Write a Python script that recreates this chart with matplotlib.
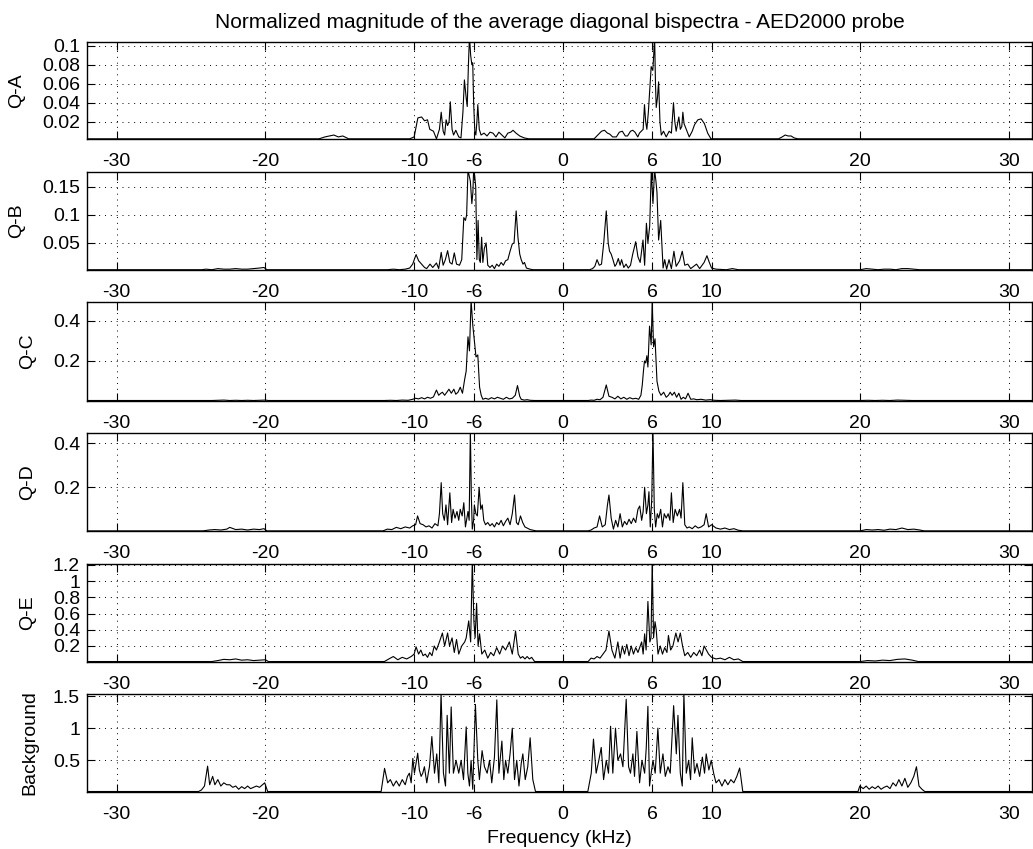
import matplotlib
matplotlib.use("Agg")
import matplotlib.pyplot as plt
import numpy as np

plt.rcParams['font.family'] = ['Liberation Sans', 'DejaVu Sans']

TITLE = "Normalized magnitude of the average diagonal bispectra - AED2000 probe"
XLABEL = "Frequency (kHz)"
XTICKS = [-30, -20, -10, -6, 0, 6, 10, 20, 30]
PANEL_NAMES = ["Q-A", "Q-B", "Q-C", "Q-D", "Q-E", "Background"]

# ---------------- Q-A ----------------
qa_f = [-32.0, -16.4, -16.0, -15.7, -15.4, -15.1, -14.8, -14.4, -10.3, -10.0,
        -9.75, -9.5, -9.3, -9.1, -8.95, -8.7, -8.5, -8.3, -8.18, -8.05,
        -7.95, -7.85, -7.75, -7.65, -7.57, -7.45, -7.35, -7.2, -7.0, -6.85,
        -6.72, -6.62, -6.5, -6.43, -6.35, -6.28, -6.2, -6.12, -6.06, -6.0,
        -5.92, -5.85, -5.78, -5.72, -5.62, -5.5, -5.3, -5.1, -4.9, -4.7,
        -4.5, -4.3, -4.1, -3.9, -3.7, -3.5, -3.35, -3.15, -2.9, -2.6,
        -2.3, -2.0, 1.9, 2.1, 2.35, 2.6, 2.8, 3.0, 3.15, 3.35,
        3.6, 3.8, 4.0, 4.2, 4.35, 4.55, 4.7, 4.85, 5.04, 5.15,
        5.27, 5.4, 5.49, 5.57, 5.65, 5.75, 5.83, 5.94, 6.05, 6.11,
        6.17, 6.23, 6.28, 6.36, 6.44, 6.53, 6.62, 6.77, 6.95, 7.15,
        7.3, 7.44, 7.53, 7.62, 7.72, 7.8, 7.9, 8.0, 8.07, 8.15,
        8.3, 8.5, 8.7, 8.86, 9.08, 9.3, 9.52, 9.74, 9.96, 10.2,
        14.5, 14.75, 14.95, 15.15, 15.35, 15.55, 15.8, 31.6]
qa_v = [0.002, 0.002, 0.004, 0.005, 0.006, 0.004, 0.005, 0.002, 0.002, 0.004,
        0.024, 0.025, 0.021, 0.022, 0.012, 0.010, 0.002, 0.012, 0.030, 0.010,
        0.006, 0.022, 0.016, 0.020, 0.041, 0.012, 0.006, 0.011, 0.004, 0.003,
        0.030, 0.064, 0.045, 0.036, 0.080, 0.110, 0.090, 0.080, 0.082, 0.040,
        0.010, 0.006, 0.020, 0.038, 0.012, 0.006, 0.008, 0.005, 0.009, 0.008,
        0.004, 0.009, 0.006, 0.003, 0.008, 0.009, 0.011, 0.008, 0.005, 0.003,
        0.002, 0.002, 0.002, 0.002, 0.006, 0.010, 0.011, 0.008, 0.007, 0.004,
        0.004, 0.009, 0.010, 0.005, 0.005, 0.010, 0.011, 0.009, 0.004, 0.008,
        0.010, 0.012, 0.038, 0.020, 0.012, 0.030, 0.050, 0.078, 0.074, 0.090,
        0.110, 0.060, 0.035, 0.045, 0.062, 0.020, 0.006, 0.010, 0.004, 0.010,
        0.008, 0.040, 0.020, 0.010, 0.018, 0.025, 0.012, 0.015, 0.030, 0.018,
        0.012, 0.004, 0.010, 0.017, 0.022, 0.023, 0.018, 0.008, 0.002, 0.002,
        0.002, 0.004, 0.006, 0.005, 0.005, 0.003, 0.002, 0.002]

# ---------------- Q-B ----------------
qb_f = [-32.0, -24.3, -24.0, -23.6, -23.2, -22.8, -22.4, -22.0, -21.6, -21.2,
        -20.8, -20.4, -20.1, -19.9, -11.8, -11.4, -11.0, -10.6, -10.3, -10.1,
        -9.87, -9.7, -9.5, -9.3, -9.16, -8.93, -8.75, -8.5, -8.35, -8.18,
        -8.05, -7.9, -7.75, -7.6, -7.45, -7.3, -7.15, -6.95, -6.8, -6.66,
        -6.55, -6.47, -6.38, -6.3, -6.22, -6.12, -6.05, -6.0, -5.93, -5.86,
        -5.78, -5.7, -5.62, -5.55, -5.46, -5.38, -5.28, -5.16, -5.05, -4.9,
        -4.75, -4.6, -4.45, -4.3, -4.15, -4.0, -3.85, -3.7, -3.55, -3.4,
        -3.28, -3.14, -3.02, -2.9, -2.8, -2.68, -2.58, -2.45, -2.2, -2.0,
        1.8, 2.0, 2.15, 2.3, 2.45, 2.6, 2.75, 2.92, 3.05, 3.14,
        3.25, 3.37, 3.5, 3.6, 3.73, 3.85, 3.95, 4.1, 4.25, 4.4,
        4.55, 4.7, 4.9, 5.05, 5.2, 5.39, 5.5, 5.62, 5.72, 5.84,
        5.95, 6.06, 6.17, 6.26, 6.33, 6.44, 6.58, 6.74, 6.85, 6.98,
        7.14, 7.3, 7.47, 7.62, 7.85, 8.03, 8.2, 8.4, 8.6, 8.8,
        8.99, 9.2, 9.5, 9.69, 9.85, 10.0, 10.3, 11.0, 11.4, 11.8,
        20.0, 20.4, 20.8, 21.2, 21.6, 22.0, 22.4, 22.8, 23.2, 23.6,
        24.0, 24.4, 31.6]
qb_v = [0.002, 0.002, 0.003, 0.002, 0.004, 0.003, 0.003, 0.004, 0.003, 0.003,
        0.004, 0.005, 0.006, 0.002, 0.002, 0.003, 0.002, 0.003, 0.005, 0.012,
        0.029, 0.018, 0.012, 0.006, 0.004, 0.012, 0.006, 0.014, 0.004, 0.033,
        0.010, 0.020, 0.036, 0.015, 0.012, 0.032, 0.012, 0.010, 0.020, 0.095,
        0.090, 0.100, 0.180, 0.170, 0.160, 0.120, 0.140, 0.180, 0.170, 0.150,
        0.020, 0.090, 0.020, 0.015, 0.060, 0.015, 0.040, 0.050, 0.010, 0.006,
        0.010, 0.004, 0.012, 0.008, 0.015, 0.010, 0.018, 0.020, 0.035, 0.048,
        0.050, 0.107, 0.060, 0.030, 0.020, 0.012, 0.015, 0.005, 0.003, 0.002,
        0.002, 0.004, 0.008, 0.020, 0.010, 0.012, 0.050, 0.107, 0.050, 0.035,
        0.030, 0.020, 0.008, 0.012, 0.022, 0.010, 0.020, 0.006, 0.012, 0.005,
        0.010, 0.030, 0.052, 0.025, 0.015, 0.055, 0.010, 0.085, 0.050, 0.080,
        0.180, 0.120, 0.180, 0.160, 0.140, 0.055, 0.090, 0.005, 0.020, 0.003,
        0.020, 0.004, 0.035, 0.008, 0.018, 0.035, 0.010, 0.012, 0.004, 0.008,
        0.012, 0.004, 0.015, 0.027, 0.015, 0.005, 0.003, 0.002, 0.004, 0.002,
        0.002, 0.004, 0.003, 0.002, 0.003, 0.003, 0.002, 0.004, 0.004, 0.003,
        0.002, 0.002, 0.002]

# ---------------- Q-C ----------------
qc_f = [-32.0, -23.6, -23.2, -22.8, -22.4, -22.0, -21.6, -21.2, -20.8, -20.4,
        -20.0, -19.8, -12.0, -11.6, -11.2, -10.8, -10.4, -10.1, -9.9, -9.7,
        -9.5, -9.3, -9.1, -8.9, -8.7, -8.5, -8.35, -8.2, -8.1, -7.95,
        -7.8, -7.66, -7.5, -7.33, -7.2, -7.05, -6.9, -6.75, -6.6, -6.5,
        -6.38, -6.28, -6.17, -6.06, -5.95, -5.84, -5.72, -5.6, -5.49, -5.38,
        -5.2, -5.0, -4.8, -4.6, -4.4, -4.2, -4.0, -3.8, -3.6, -3.4,
        -3.2, -3.05, -2.9, -2.8, -2.6, -2.4, -2.2, -1.9, 1.7, 1.9,
        2.1, 2.3, 2.5, 2.7, 2.92, 3.1, 3.3, 3.5, 3.7, 3.9,
        4.1, 4.3, 4.5, 4.7, 4.9, 5.1, 5.25, 5.34, 5.42, 5.49,
        5.57, 5.65, 5.72, 5.83, 5.94, 6.01, 6.1, 6.2, 6.33, 6.46,
        6.6, 6.78, 6.95, 7.1, 7.22, 7.35, 7.5, 7.65, 7.8, 7.95,
        8.1, 8.25, 8.42, 8.6, 8.8, 9.0, 9.3, 9.6, 9.9, 10.2,
        10.6, 11.0, 11.6, 12.0, 20.0, 20.5, 21.0, 21.5, 22.0, 22.5,
        23.0, 23.5, 23.8, 31.6]
qc_v = [0.004, 0.004, 0.005, 0.006, 0.004, 0.005, 0.004, 0.005, 0.004, 0.005,
        0.006, 0.004, 0.004, 0.005, 0.004, 0.006, 0.005, 0.010, 0.015, 0.012,
        0.018, 0.012, 0.020, 0.015, 0.022, 0.056, 0.030, 0.040, 0.045, 0.030,
        0.045, 0.060, 0.040, 0.060, 0.035, 0.045, 0.070, 0.040, 0.110, 0.150,
        0.320, 0.250, 0.500, 0.380, 0.300, 0.220, 0.230, 0.070, 0.030, 0.010,
        0.015, 0.010, 0.018, 0.012, 0.020, 0.015, 0.010, 0.020, 0.012, 0.015,
        0.030, 0.078, 0.025, 0.010, 0.006, 0.008, 0.005, 0.004, 0.004, 0.006,
        0.005, 0.010, 0.008, 0.020, 0.081, 0.025, 0.020, 0.012, 0.025, 0.012,
        0.020, 0.010, 0.018, 0.012, 0.015, 0.010, 0.030, 0.080, 0.150, 0.200,
        0.190, 0.226, 0.170, 0.373, 0.280, 0.500, 0.270, 0.310, 0.100, 0.050,
        0.030, 0.045, 0.020, 0.030, 0.045, 0.030, 0.045, 0.020, 0.040, 0.010,
        0.020, 0.012, 0.040, 0.010, 0.012, 0.008, 0.010, 0.006, 0.008, 0.005,
        0.004, 0.005, 0.006, 0.004, 0.004, 0.005, 0.004, 0.005, 0.004, 0.006,
        0.005, 0.004, 0.004, 0.004]

# ---------------- Q-D ----------------
qd_f = [-32.0, -24.2, -23.8, -23.4, -23.0, -22.6, -22.4, -22.0, -21.6, -21.2,
        -20.8, -20.4, -20.1, -19.9, -12.1, -11.8, -11.5, -11.2, -10.9, -10.6,
        -10.3, -10.1, -9.9, -9.77, -9.6, -9.4, -9.2, -9.0, -8.8, -8.6,
        -8.4, -8.3, -8.18, -8.08, -7.97, -7.86, -7.75, -7.6, -7.48, -7.38,
        -7.25, -7.12, -7.0, -6.9, -6.77, -6.66, -6.55, -6.45, -6.38, -6.3,
        -6.22, -6.15, -6.09, -6.0, -5.95, -5.85, -5.75, -5.63, -5.52, -5.42,
        -5.32, -5.2, -5.05, -4.9, -4.75, -4.6, -4.45, -4.3, -4.15, -4.0,
        -3.85, -3.7, -3.55, -3.4, -3.25, -3.12, -3.0, -2.85, -2.7, -2.55,
        -2.4, -2.2, -2.0, -1.8, 1.7, 1.9, 2.1, 2.3, 2.47, 2.65,
        2.85, 3.0, 3.1, 3.25, 3.4, 3.55, 3.7, 3.85, 4.0, 4.15,
        4.3, 4.45, 4.6, 4.75, 4.9, 5.05, 5.17, 5.3, 5.4, 5.5,
        5.62, 5.72, 5.79, 5.88, 5.98, 6.06, 6.15, 6.24, 6.35, 6.45,
        6.58, 6.7, 6.82, 6.95, 7.08, 7.2, 7.3, 7.42, 7.55, 7.7,
        7.85, 7.95, 8.07, 8.2, 8.35, 8.5, 8.7, 8.9, 9.1, 9.3,
        9.5, 9.64, 9.8, 10.0, 10.3, 10.6, 10.9, 11.2, 11.5, 11.8,
        12.1, 20.0, 20.4, 20.8, 21.2, 21.6, 22.0, 22.4, 22.8, 23.2,
        23.6, 24.0, 24.3, 31.6]
qd_v = [0.002, 0.002, 0.006, 0.008, 0.006, 0.010, 0.018, 0.008, 0.010, 0.006,
        0.010, 0.008, 0.012, 0.002, 0.002, 0.010, 0.008, 0.018, 0.012, 0.020,
        0.015, 0.025, 0.030, 0.070, 0.035, 0.030, 0.020, 0.025, 0.015, 0.035,
        0.025, 0.080, 0.221, 0.080, 0.050, 0.120, 0.030, 0.175, 0.040, 0.100,
        0.060, 0.090, 0.050, 0.100, 0.070, 0.130, 0.020, 0.060, 0.090, 0.050,
        0.460, 0.150, 0.010, 0.050, 0.120, 0.080, 0.070, 0.200, 0.100, 0.120,
        0.050, 0.030, 0.040, 0.025, 0.035, 0.020, 0.040, 0.030, 0.050, 0.025,
        0.045, 0.060, 0.030, 0.080, 0.165, 0.040, 0.030, 0.070, 0.040, 0.020,
        0.015, 0.008, 0.005, 0.002, 0.002, 0.006, 0.015, 0.020, 0.070, 0.020,
        0.030, 0.120, 0.165, 0.060, 0.010, 0.050, 0.020, 0.080, 0.020, 0.045,
        0.030, 0.055, 0.035, 0.060, 0.040, 0.100, 0.115, 0.050, 0.090, 0.200,
        0.080, 0.120, 0.180, 0.020, 0.150, 0.460, 0.100, 0.020, 0.080, 0.060,
        0.100, 0.020, 0.080, 0.060, 0.080, 0.050, 0.175, 0.040, 0.100, 0.070,
        0.100, 0.060, 0.221, 0.030, 0.015, 0.020, 0.012, 0.025, 0.015, 0.020,
        0.030, 0.080, 0.020, 0.030, 0.015, 0.010, 0.015, 0.008, 0.012, 0.005,
        0.002, 0.002, 0.008, 0.006, 0.008, 0.005, 0.010, 0.008, 0.015, 0.008,
        0.010, 0.006, 0.002, 0.002]

# ---------------- Q-E ----------------
qe_f = [-32.0, -23.6, -23.2, -22.8, -22.4, -22.0, -21.6, -21.2, -20.8, -20.4,
        -20.0, -19.8, -12.0, -11.7, -11.4, -11.1, -10.8, -10.5, -10.2, -10.0,
        -9.87, -9.7, -9.55, -9.4, -9.25, -9.1, -8.95, -8.8, -8.65, -8.5,
        -8.3, -8.1, -7.95, -7.75, -7.62, -7.45, -7.3, -7.15, -7.0, -6.8,
        -6.6, -6.5, -6.33, -6.2, -6.09, -5.98, -5.9, -5.8, -5.7, -5.6,
        -5.45, -5.25, -5.05, -4.85, -4.65, -4.45, -4.25, -4.05, -3.85, -3.6,
        -3.4, -3.18, -3.0, -2.85, -2.7, -2.55, -2.4, -2.25, -2.1, -1.9,
        1.7, 1.9, 2.1, 2.3, 2.5, 2.7, 2.9, 3.1, 3.3, 3.5,
        3.7, 3.85, 4.0, 4.15, 4.3, 4.45, 4.6, 4.75, 4.9, 5.05,
        5.2, 5.3, 5.4, 5.5, 5.6, 5.72, 5.85, 5.93, 6.01, 6.1,
        6.2, 6.28, 6.4, 6.55, 6.7, 6.85, 7.0, 7.1, 7.25, 7.4,
        7.6, 7.75, 7.9, 8.05, 8.2, 8.4, 8.6, 8.8, 9.0, 9.2,
        9.35, 9.5, 9.65, 9.8, 10.0, 10.3, 10.6, 10.9, 11.2, 11.5,
        11.8, 12.1, 20.0, 20.5, 21.0, 21.5, 22.0, 22.5, 23.0, 23.5,
        23.9, 31.6]
qe_v = [0.008, 0.008, 0.020, 0.035, 0.030, 0.040, 0.025, 0.030, 0.020, 0.025,
        0.030, 0.008, 0.008, 0.040, 0.070, 0.030, 0.060, 0.040, 0.070, 0.100,
        0.190, 0.100, 0.150, 0.080, 0.100, 0.060, 0.120, 0.080, 0.200, 0.150,
        0.250, 0.360, 0.200, 0.360, 0.200, 0.300, 0.120, 0.280, 0.100, 0.200,
        0.250, 0.300, 0.510, 0.250, 1.250, 0.500, 0.300, 0.727, 0.200, 0.350,
        0.100, 0.150, 0.050, 0.120, 0.080, 0.180, 0.100, 0.200, 0.150, 0.250,
        0.100, 0.385, 0.100, 0.050, 0.070, 0.040, 0.070, 0.040, 0.060, 0.008,
        0.008, 0.050, 0.040, 0.070, 0.050, 0.100, 0.150, 0.385, 0.150, 0.050,
        0.250, 0.050, 0.200, 0.100, 0.220, 0.080, 0.200, 0.100, 0.180, 0.120,
        0.200, 0.250, 0.100, 0.350, 0.150, 0.750, 0.250, 0.300, 1.250, 0.300,
        0.500, 0.400, 0.100, 0.200, 0.100, 0.180, 0.120, 0.330, 0.150, 0.200,
        0.360, 0.250, 0.360, 0.200, 0.080, 0.120, 0.060, 0.120, 0.080, 0.150,
        0.080, 0.200, 0.150, 0.100, 0.060, 0.040, 0.050, 0.030, 0.060, 0.030,
        0.040, 0.008, 0.008, 0.020, 0.015, 0.025, 0.020, 0.035, 0.040, 0.025,
        0.008, 0.008]

# ---------------- Background ----------------
bg_f = [-32.0, -24.5, -24.3, -24.1, -23.89, -23.75, -23.55, -23.4, -23.2, -23.0,
        -22.8, -22.6, -22.4, -22.2, -22.0, -21.8, -21.6, -21.4, -21.2, -21.0,
        -20.8, -20.6, -20.4, -20.2, -20.05, -19.85, -12.22, -11.99, -11.78, -11.6,
        -11.4, -11.2, -11.0, -10.8, -10.6, -10.45, -10.32, -10.2, -10.09, -9.98,
        -9.87, -9.76, -9.65, -9.53, -9.42, -9.31, -9.15, -9.05, -8.97, -8.81,
        -8.63, -8.48, -8.34, -8.19, -8.03, -7.89, -7.78, -7.63, -7.51, -7.36,
        -7.18, -7.0, -6.84, -6.68, -6.5, -6.39, -6.28, -6.17, -6.06, -5.88,
        -5.72, -5.61, -5.43, -5.27, -5.09, -4.93, -4.78, -4.6, -4.44, -4.3,
        -4.1, -3.97, -3.85, -3.7, -3.55, -3.4, -3.25, -3.1, -2.95, -2.8,
        -2.69, -2.53, -2.36, -2.2, -2.02, -1.84, 1.68, 1.91, 2.06, 2.24,
        2.42, 2.58, 2.74, 2.92, 3.07, 3.21, 3.36, 3.54, 3.7, 3.88,
        4.04, 4.26, 4.42, 4.55, 4.71, 4.82, 4.98, 5.16, 5.32, 5.5,
        5.61, 5.72, 5.83, 5.94, 6.06, 6.21, 6.39, 6.55, 6.73, 6.89,
        7.07, 7.22, 7.45, 7.63, 7.74, 7.9, 8.03, 8.14, 8.3, 8.46,
        8.59, 8.7, 8.86, 9.02, 9.2, 9.38, 9.53, 9.64, 9.82, 9.98,
        10.14, 10.3, 10.5, 10.7, 10.9, 11.1, 11.3, 11.5, 11.7, 11.89,
        12.1, 19.85, 19.97, 20.2, 20.4, 20.6, 20.8, 21.0, 21.2, 21.4,
        21.6, 21.8, 22.0, 22.2, 22.4, 22.6, 22.8, 23.0, 23.2, 23.4,
        23.6, 23.78, 23.95, 24.15, 24.34, 31.6]
bg_v = [0.015, 0.015, 0.040, 0.100, 0.410, 0.120, 0.250, 0.120, 0.200, 0.100,
        0.150, 0.120, 0.120, 0.080, 0.100, 0.050, 0.090, 0.060, 0.100, 0.060,
        0.080, 0.100, 0.080, 0.120, 0.150, 0.015, 0.015, 0.375, 0.150, 0.200,
        0.100, 0.180, 0.100, 0.200, 0.120, 0.250, 0.300, 0.150, 0.530, 0.300,
        0.450, 0.610, 0.350, 0.250, 0.300, 0.400, 0.150, 0.300, 0.400, 0.870,
        0.300, 0.600, 0.150, 1.540, 0.300, 0.100, 1.200, 0.300, 1.330, 0.300,
        0.500, 0.300, 0.500, 0.200, 1.020, 0.300, 0.100, 0.500, 0.050, 1.370,
        0.500, 0.200, 0.650, 0.400, 0.300, 0.500, 0.150, 0.550, 1.440, 0.300,
        0.800, 0.200, 0.500, 0.300, 0.600, 1.000, 0.200, 0.500, 0.100, 0.450,
        0.600, 0.200, 0.400, 0.850, 0.200, 0.015, 0.015, 0.300, 0.830, 0.300,
        0.500, 0.700, 0.200, 0.500, 0.300, 1.030, 0.300, 1.000, 0.500, 0.600,
        0.400, 1.450, 0.400, 0.300, 0.600, 0.250, 0.950, 0.150, 0.500, 0.300,
        0.700, 1.340, 0.100, 0.300, 0.500, 0.300, 1.000, 0.300, 0.600, 0.250,
        0.400, 0.300, 1.350, 0.600, 1.200, 0.300, 0.100, 1.540, 0.300, 0.500,
        0.200, 0.850, 0.300, 0.450, 0.250, 0.550, 0.300, 0.600, 0.350, 0.500,
        0.300, 0.150, 0.200, 0.100, 0.200, 0.120, 0.200, 0.150, 0.250, 0.380,
        0.015, 0.015, 0.100, 0.060, 0.100, 0.050, 0.090, 0.060, 0.100, 0.050,
        0.080, 0.100, 0.060, 0.150, 0.100, 0.200, 0.100, 0.220, 0.080, 0.150,
        0.250, 0.400, 0.100, 0.050, 0.015, 0.015]

SERIES = [(qa_f, qa_v), (qb_f, qb_v), (qc_f, qc_v), (qd_f, qd_v), (qe_f, qe_v), (bg_f, bg_v)]
YLIMS = [(0.0015, 0.1042), (0.0015, 0.177), (0.003, 0.491), (0.0015, 0.448), (0.006, 1.212), (0.012, 1.536)]
YTICKS = [[0.02, 0.04, 0.06, 0.08, 0.1], [0.05, 0.1, 0.15], [0.2, 0.4], [0.2, 0.4],
          [0.2, 0.4, 0.6, 0.8, 1, 1.2], [0.5, 1, 1.5]]
YTICKLABELS = [["0.02", "0.04", "0.06", "0.08", "0.1"], ["0.05", "0.1", "0.15"], ["0.2", "0.4"],
               ["0.2", "0.4"], ["0.2", "0.4", "0.6", "0.8", "1", "1.2"], ["0.5", "1", "1.5"]]

W, H = 1033, 849
fig = plt.figure(figsize=(W / 100, H / 100), dpi=100)
left_px, right_px = 87, 1032
tops = [41.7, 171.7, 302.3, 432.7, 564.0, 693.7]
bots = [139.3, 270.0, 400.7, 531.0, 661.7, 791.7]
ylabel_center_px = [17, 17, 28, 28, 28, 30]

axes = []
for i in range(6):
    ax = fig.add_axes([left_px / W, 1 - bots[i] / H, (right_px - left_px) / W, (bots[i] - tops[i]) / H])
    f, v = SERIES[i]
    ax.plot(f, v, color='black', lw=0.8)
    ax.set_xlim(-32.0, 31.55)
    ax.set_ylim(*YLIMS[i])
    ax.set_xticks(XTICKS)
    ax.set_xticklabels([str(t) for t in XTICKS], fontsize=14)
    ax.set_yticks(YTICKS[i])
    ax.set_yticklabels(YTICKLABELS[i], fontsize=14)
    ax.tick_params(direction='in', length=6, width=0.8, top=True, right=True)
    ax.tick_params(axis='x', pad=10)
    ax.tick_params(axis='y', pad=5)
    ax.grid(True, color='black', linestyle=(0, (1, 5)), lw=0.7)
    ax.set_ylabel(PANEL_NAMES[i], fontsize=14)
    ax.yaxis.set_label_coords((ylabel_center_px[i] - left_px) / (right_px - left_px), 0.5)
    ax.yaxis.label.set_verticalalignment('center')
    for s in ax.spines.values():
        s.set_linewidth(1.0)
    axes.append(ax)

axes[0].set_title(TITLE, fontsize=15, pad=10)
axes[-1].set_xlabel(XLABEL, fontsize=14, labelpad=5)

fig.savefig("out.png", dpi=100)
